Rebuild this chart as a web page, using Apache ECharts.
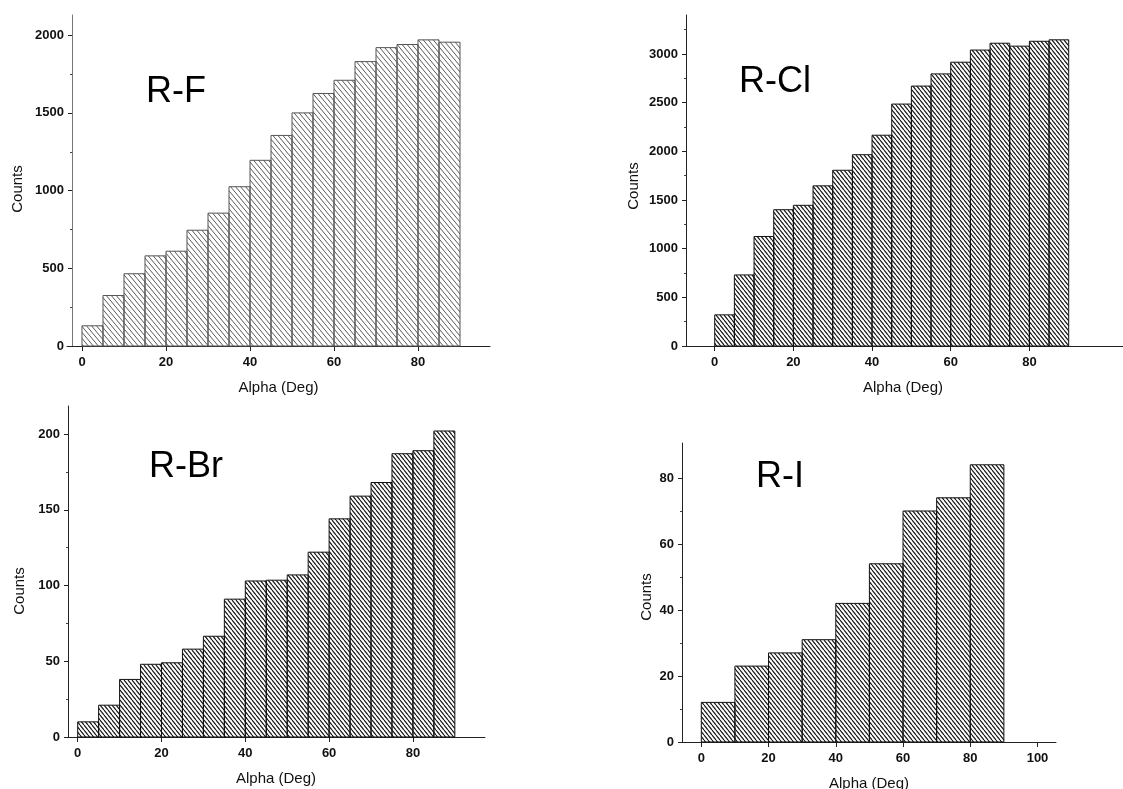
<!DOCTYPE html>
<html>
<head>
<meta charset="utf-8">
<script src="https://cdn.jsdelivr.net/npm/echarts@6/dist/echarts.min.js"></script>
<style>
  html, body { margin: 0; padding: 0; background: #fff; }
  #chart { width: 1123px; height: 789px; }
</style>
</head>
<body>
<div id="chart"></div>
<script>
// bin edges, degrees
var edges5 = [0, 5, 10, 15, 20, 25, 30, 35, 40, 45, 50, 55, 60, 65, 70, 75, 80, 85, 90]
var edges10 = [0, 10, 20, 30, 40, 50, 60, 70, 80, 90]

// counts per bin
var countsF = [130, 325, 465, 580, 610, 745, 855, 1025, 1195, 1355, 1500, 1625, 1710, 1830, 1920, 1940, 1970, 1955]
var countsCl = [320, 730, 1125, 1400, 1445, 1645, 1805, 1965, 2165, 2485, 2670, 2795, 2915, 3040, 3110, 3080, 3130, 3145]
var countsBr = [10, 21, 38, 48, 49, 58, 66.5, 91, 103, 103.5, 107, 122, 144, 159, 168, 187, 189, 202]
var countsI = [12, 23, 27, 31, 42, 54, 70, 74, 84]

// tick values
var xTicks = [0, 20, 40, 60, 80]
var xTicksI = [0, 20, 40, 60, 80, 100]
var yTicksF = [0, 500, 1000, 1500, 2000]
var yMinorF = [250, 750, 1250, 1750]
var yTicksCl = [0, 500, 1000, 1500, 2000, 2500, 3000]
var yMinorCl = [250, 750, 1250, 1750, 2250, 2750, 3250]
var yTicksBr = [0, 50, 100, 150, 200]
var yMinorBr = [25, 75, 125, 175]
var yTicksI = [0, 20, 40, 60, 80]
var yMinorI = [10, 30, 50, 70]

var FONT = '"Liberation Sans", Arial, sans-serif'

// diagonal "\\\" hatch tile
function makeHatch(w, h, color, lw) {
  var c = document.createElement('canvas')
  c.width = w
  c.height = h
  var ctx = c.getContext('2d')
  ctx.strokeStyle = color
  ctx.lineWidth = lw
  for (var k = -1; k <= 1; k++) {
    ctx.beginPath()
    ctx.moveTo(k * w, 0)
    ctx.lineTo(k * w + w, h)
    ctx.stroke()
  }
  return { image: c, repeat: 'repeat' }
}

var hatchLight = makeHatch(5, 6, '#5a5a5a', 1)
var hatchDark = makeHatch(4, 5, '#111', 1.1)

var panels = [
  { title: 'R-F', edges: edges5, counts: countsF, xt: xTicks, yt: yTicksF, ym: yMinorF,
    grid: { left: 67, top: 15, width: 423, height: 331 }, xMin: -3.57, xMax: 97.14, yMax: 2130,
    yOff: -5, yGap: 47, yPad: 17, hatch: hatchLight, stroke: '#555', yLine: '#777', tpos: [176, 92] },
  { title: 'R-Cl', edges: edges5, counts: countsCl, xt: xTicks, yt: yTicksCl, ym: yMinorCl,
    grid: { left: 683, top: 15, width: 440, height: 331 }, xMin: -8.06, xMax: 103.8, yMax: 3400,
    yOff: -3, yGap: 45, yPad: 11, hatch: hatchDark, stroke: '#111', yLine: '#222', tpos: [775, 82] },
  { title: 'R-Br', edges: edges5, counts: countsBr, xt: xTicks, yt: yTicksBr, ym: yMinorBr,
    grid: { left: 67, top: 406, width: 418, height: 331 }, xMin: -2.55, xMax: 97.2, yMax: 218.5,
    yOff: -1, yGap: 41, yPad: 39, hatch: hatchDark, stroke: '#111', yLine: '#222', tpos: [186, 467] },
  { title: 'R-I', edges: edges10, counts: countsI, xt: xTicksI, yt: yTicksI, ym: yMinorI,
    grid: { left: 682, top: 443, width: 374, height: 299 }, xMin: -5.74, xMax: 105.5, yMax: 90.6,
    yOff: 0, yGap: 28, yPad: 9, hatch: hatchDark, stroke: '#111', yLine: '#222', tpos: [780, 477] }
]

function plain(v) {
  return String(v)
}

var option = {
  backgroundColor: '#fff',
  animation: false,
  grid: [],
  xAxis: [],
  yAxis: [],
  series: [],
  graphic: []
}

panels.forEach(function (p, i) {
  var g = Object.assign({ outerBoundsMode: 'none' }, p.grid)
  option.grid.push(g)
  option.xAxis.push({
    type: 'value', gridIndex: i, min: p.xMin, max: p.xMax,
    name: 'Alpha (Deg)', nameLocation: 'middle', nameGap: 34, nameMoveOverlap: false,
    nameTextStyle: { fontFamily: FONT, fontSize: 15, color: '#111' },
    axisLine: { onZero: false, lineStyle: { color: '#222', width: 1 } },
    axisTick: { customValues: p.xt, length: 5, lineStyle: { color: '#222' } },
    axisLabel: { customValues: p.xt, formatter: plain, margin: 10, fontFamily: FONT, fontSize: 13, fontWeight: 'bold', color: '#111' },
    splitLine: { show: false }
  })
  option.yAxis.push({
    type: 'value', gridIndex: i, position: 'left', min: 0, max: p.yMax, offset: p.yOff,
    name: 'Counts', nameLocation: 'middle', nameGap: p.yGap, nameRotate: 90, nameMoveOverlap: false,
    nameTextStyle: { fontFamily: FONT, fontSize: 15, color: '#111', padding: [0, p.yPad, 0, 0] },
    axisLine: { show: true, onZero: false, lineStyle: { color: p.yLine, width: 1 } },
    axisTick: { show: true, customValues: p.yt, length: 4, lineStyle: { color: '#222' } },
    axisLabel: { customValues: p.yt, formatter: plain, margin: 8, fontFamily: FONT, fontSize: 13, fontWeight: 'bold', color: '#111' },
    splitLine: { show: false }
  })
  // second axis only for the short minor ticks
  option.yAxis.push({
    type: 'value', gridIndex: i, position: 'left', min: 0, max: p.yMax, offset: p.yOff,
    axisLine: { show: false, onZero: false },
    axisTick: { show: true, customValues: p.ym, length: 2, lineStyle: { color: '#444' } },
    axisLabel: { show: false },
    splitLine: { show: false }
  })

  var bins = p.counts.map(function (c, k) { return [p.edges[k], p.edges[k + 1], c] })
  option.series.push({
    type: 'custom',
    name: p.title,
    xAxisIndex: i,
    yAxisIndex: i * 2,
    data: bins,
    renderItem: function (params, api) {
      var a = api.coord([api.value(0), 0])
      var b = api.coord([api.value(1), api.value(2)])
      return {
        type: 'rect',
        shape: { x: a[0], y: b[1], width: b[0] - a[0], height: a[1] - b[1] },
        style: { fill: p.hatch, stroke: p.stroke, lineWidth: 1 }
      }
    }
  })

  option.graphic.push({
    type: 'text', x: p.tpos[0], y: p.tpos[1],
    style: { text: p.title, fontFamily: FONT, fontSize: 36, fill: '#000', align: 'center', verticalAlign: 'middle' }
  })
})

var myChart = echarts.init(document.getElementById('chart'))
myChart.setOption(option)
</script>
</body>
</html>
